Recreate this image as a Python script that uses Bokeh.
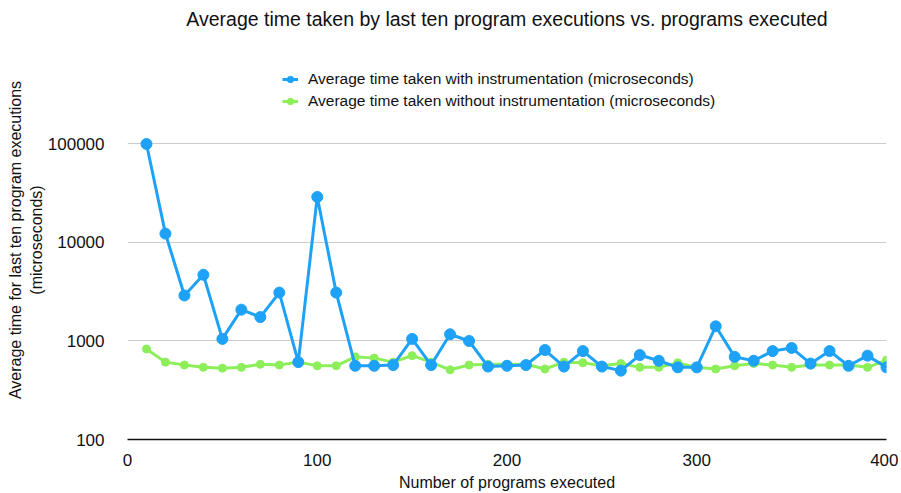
from bokeh.plotting import figure
from bokeh.models import (ColumnDataSource, Legend, LegendItem, Title, FixedTicker,
                          PrintfTickFormatter, Range1d)
from bokeh.embed import file_html
from bokeh.resources import INLINE

programs = [10, 20, 30, 40, 50, 60, 70, 80, 90, 100,
            110, 120, 130, 140, 150, 160, 170, 180, 190, 200,
            210, 220, 230, 240, 250, 260, 270, 280, 290, 300,
            310, 320, 330, 340, 350, 360, 370, 380, 390, 400]
with_instr = [100000, 12300, 2900, 4700, 1050, 2080, 1750, 3100, 610, 29000,
              3100, 560, 560, 570, 1050, 570, 1170, 1000, 550, 560,
              570, 810, 550, 790, 550, 500, 720, 630, 540, 540,
              1410, 690, 630, 790, 850, 590, 790, 560, 710, 540]
without_instr = [830, 610, 570, 540, 530, 540, 580, 570, 610, 560,
                 560, 690, 670, 610, 710, 610, 510, 570, 580, 580,
                 580, 520, 610, 600, 560, 590, 540, 540, 600, 540,
                 520, 560, 590, 570, 540, 570, 570, 570, 540, 640]
y_ticks = [100, 1000, 10000, 100000]
x_ticks = [0, 100, 200, 300, 400]

BLUE = "#1ea2f8"
GREEN = "#8cef5a"
FONT = "Liberation Sans"

src = ColumnDataSource(dict(x=programs, a=with_instr, b=without_instr))

p = figure(y_axis_type="log", output_backend="svg", toolbar_location=None,
           width=898, height=493,
           min_border_left=127, min_border_right=12, min_border_bottom=52,
           min_border_top=40,
           x_range=Range1d(0, 400), y_range=Range1d(100, 1.123e6))

p.outline_line_color = None
p.background_fill_color = None
p.border_fill_color = "white"

lg = p.line("x", "b", source=src, line_color=GREEN, line_width=3)
sg = p.scatter("x", "b", source=src, size=8, fill_color=GREEN, line_color=GREEN)
lb = p.line("x", "a", source=src, line_color=BLUE, line_width=3)
sb = p.scatter("x", "a", source=src, size=11, fill_color=BLUE, line_color=BLUE)

# axes
p.xaxis.ticker = FixedTicker(ticks=x_ticks)
p.yaxis.ticker = FixedTicker(ticks=y_ticks, minor_ticks=[])
p.yaxis.formatter = PrintfTickFormatter(format="%d")
for ax in (p.xaxis[0], p.yaxis[0]):
    ax.major_tick_line_color = None
    ax.minor_tick_line_color = None
    ax.major_label_text_font = FONT
    ax.major_label_text_font_size = "17px"
    ax.major_label_text_color = "#111111"
    ax.axis_label_text_font = FONT
    ax.axis_label_text_font_size = "16px"
    ax.axis_label_text_font_style = "normal"
    ax.axis_label_text_color = "#111111"
p.yaxis.axis_line_color = None
p.yaxis.major_label_standoff = 17
p.xaxis.axis_line_color = "#111111"
p.xaxis.axis_line_width = 1.5
p.xaxis.major_label_standoff = 8
p.xaxis.axis_label = "Number of programs executed"
p.xaxis.axis_label_standoff = 5
p.yaxis.axis_label = "Average time for last ten program executions\n(microseconds)"
p.yaxis.axis_label_standoff = 0

p.xgrid.grid_line_color = None
p.ygrid.grid_line_color = "#cccccc"
p.ygrid.grid_line_width = 1
p.ygrid.ticker = FixedTicker(ticks=[1000, 10000, 100000])

legend = Legend(items=[
    LegendItem(label="Average time taken with instrumentation (microseconds)", renderers=[lb, sb]),
    LegendItem(label="Average time taken without instrumentation (microseconds)", renderers=[lg, sg]),
], location=(155, 328), orientation="vertical")
legend.label_text_font = FONT
legend.label_text_font_size = "15.5px"
legend.label_text_color = "#111111"
legend.border_line_color = None
legend.background_fill_alpha = 0
legend.padding = 0
legend.spacing = 2
legend.label_height = 20
legend.glyph_height = 20
legend.glyph_width = 16
legend.label_standoff = 10
legend.margin = 0
p.add_layout(legend, "center")

# small blank spacer title next to the frame pushes the real title upward
spacer = Title(text=" ", text_font=FONT, text_font_size="7px", standoff=0)
p.add_layout(spacer, "above")

title = Title(text="Average time taken by last ten program executions vs. programs executed",
              align="center", text_font=FONT, text_font_size="19.5px",
              text_font_style="normal", text_color="#111111", standoff=4)
p.add_layout(title, "above")

open("out.html", "w").write(file_html(p, INLINE))
